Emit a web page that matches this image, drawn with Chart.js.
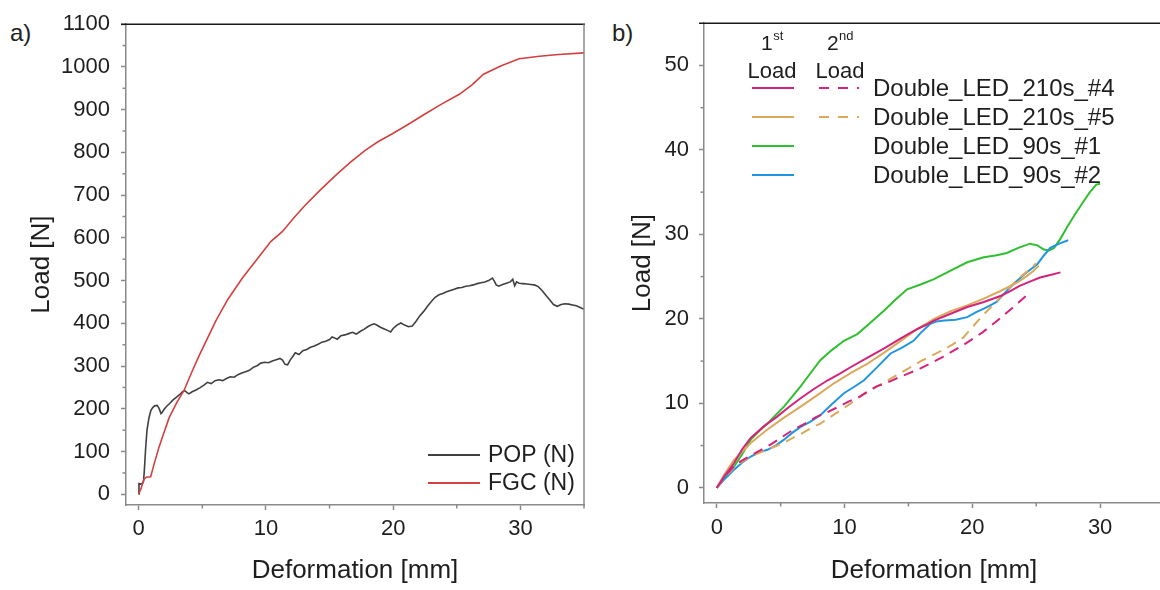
<!DOCTYPE html>
<html>
<head>
<title>Load vs deformation</title>
<script src="https://cdn.jsdelivr.net/npm/chart.js"></script>
<style>
  html, body { margin: 0; padding: 0; background: #fff; overflow: hidden; }
  body { width: 1160px; height: 590px; position: relative; font-family: "Liberation Sans", Arial, sans-serif; }
  canvas { position: absolute; top: 0; }
  #chartA { left: 0; }
  #chartB { left: 600px; }
  .tag { position: absolute; top: 21px; font-size: 24px; line-height: 24px; color: #222; }
</style>
</head>
<body>
<div class="tag" style="left:10px">a)</div>
<div class="tag" style="left:612px">b)</div>
<canvas id="chartA" width="600" height="590"></canvas>
<canvas id="chartB" width="564" height="590"></canvas>

<script>
// ---- panel a) : POP vs FGC, [deformation mm, load N]
const popData = [[0,0],[0.02,25],[0.15,24],[0.3,26],[0.38,30],[0.45,60],[0.55,110],[0.65,150],[0.8,178],[0.95,196],[1.1,203],[1.25,207],[1.45,208],[1.6,201],[1.75,189],[1.85,192],[2.0,199],[2.2,206],[2.45,213],[2.7,221],[2.95,227],[3.2,233],[3.45,240],[3.6,243],[3.8,238],[3.95,235],[4.2,240],[4.5,244],[4.8,249],[5.1,255],[5.4,262],[5.7,259],[6.0,266],[6.3,268],[6.6,266],[6.9,271],[7.2,275],[7.5,274],[7.8,280],[8.1,284],[8.4,287],[8.7,290],[9.0,297],[9.3,301],[9.6,307],[9.9,309],[10.2,308],[10.5,312],[10.8,315],[11.1,318],[11.3,314],[11.5,304],[11.7,303],[11.9,314],[12.1,322],[12.3,331],[12.6,327],[12.9,336],[13.2,339],[13.5,344],[13.8,347],[14.1,351],[14.4,356],[14.7,358],[15.0,362],[15.2,368],[15.4,366],[15.6,363],[15.9,371],[16.2,373],[16.5,376],[16.8,379],[17.1,375],[17.4,381],[17.7,386],[18.0,392],[18.3,397],[18.5,399],[18.7,396],[19.0,391],[19.3,387],[19.6,383],[19.8,380],[20.0,388],[20.3,396],[20.6,401],[20.9,396],[21.2,392],[21.5,394],[21.8,405],[22.1,418],[22.4,428],[22.7,440],[23.0,451],[23.3,461],[23.6,467],[23.9,470],[24.2,474],[24.5,477],[24.8,480],[25.1,483],[25.4,484],[25.7,487],[26.0,488],[26.3,490],[26.6,493],[26.9,495],[27.2,497],[27.5,500],[27.8,506],[27.95,499],[28.1,490],[28.3,487],[28.6,491],[28.9,494],[29.2,497],[29.4,503],[29.55,488],[29.7,497],[29.9,494],[30.2,493],[30.5,492],[30.8,491],[31.1,490],[31.4,486],[31.7,477],[32.0,466],[32.3,455],[32.6,444],[32.9,440],[33.2,444],[33.5,446],[33.8,445],[34.1,443],[34.4,441],[34.7,437],[35.0,433]];
const fgcData = [[0,0],[0.2,15],[0.4,35],[0.6,40],[0.94,41],[1.2,70],[1.6,111],[2.0,146],[2.4,180],[3.0,215],[3.56,243],[4.2,288],[4.74,324],[5.4,365],[6.05,405],[7.0,456],[8.15,506],[9.45,556],[10.4,592],[11.3,615],[12.2,647],[13.1,677],[14.3,713],[15.5,747],[16.6,776],[17.8,805],[18.8,825],[19.9,843],[21.2,866],[22.5,890],[23.8,913],[25.2,936],[26.2,958],[27.1,983],[28.5,1003],[29.9,1019],[31.5,1025],[33.0,1029],[35.0,1033]];
const seriesA = ['POP (N)', 'FGC (N)'];
const xMajorA = [0, 10, 20, 30];
const xMinorA = [5, 15, 25, 35];
const yMajorA = [0, 100, 200, 300, 400, 500, 600, 700, 800, 900, 1000, 1100];
const yMinorA = [50, 150, 250, 350, 450, 550, 650, 750, 850, 950, 1050];

// ---- panel b) : Double LED samples, 1st and 2nd load
const led210s4First = [[0,0],[0.6,1.4],[1.35,2.9],[2.0,4.6],[2.66,5.9],[3.7,7.3],[4.7,8.4],[5.6,9.5],[6.56,10.6],[7.6,11.7],[8.65,12.7],[9.6,13.5],[10.5,14.3],[11.8,15.4],[13.1,16.5],[14.4,17.7],[15.7,18.8],[16.4,19.3],[17.0,19.8],[18.3,20.6],[19.6,21.4],[20.9,22.0],[22.2,22.7],[23.0,23.3],[23.7,23.9],[24.5,24.4],[25.3,24.9],[26.1,25.2],[26.9,25.5]];
const led210s4Second = [[0,0],[0.7,1.5],[1.5,2.8],[2.3,3.5],[3.0,4.1],[3.6,4.6],[4.3,5.2],[5.1,6.0],[6.0,6.9],[6.9,7.6],[7.8,8.4],[8.6,8.9],[9.4,9.5],[10.3,10.2],[11.2,10.8],[11.9,11.5],[12.5,12.0],[13.4,12.5],[14.3,13.1],[15.1,13.6],[15.9,14.1],[16.8,14.8],[17.7,15.5],[18.5,16.2],[19.3,16.9],[20.0,17.6],[20.8,18.4],[21.8,19.6],[22.9,21.0],[23.6,21.9],[24.4,23.0]];
const led210s5First = [[0,0],[0.6,1.6],[1.35,3.3],[2.0,4.3],[2.66,5.3],[3.3,6.1],[3.96,6.9],[5.26,8.3],[6.56,9.6],[7.9,11.0],[9.2,12.4],[10.5,13.6],[11.8,14.7],[13.1,16.0],[14.4,17.4],[15.7,18.8],[17.0,20.0],[18.3,20.9],[19.6,21.6],[20.9,22.4],[22.2,23.3],[23.5,24.3],[24.2,25.0],[24.8,25.7],[25.2,26.3]];
const led210s5Second = [[0,0],[0.7,1.4],[1.5,2.6],[2.2,3.3],[2.9,3.9],[3.6,4.3],[4.4,4.8],[5.2,5.3],[5.8,5.8],[6.5,6.3],[7.3,7.0],[8.1,7.6],[8.8,8.3],[9.6,9.1],[10.4,9.9],[11.2,10.8],[12.0,11.5],[12.8,12.2],[13.7,13.0],[14.5,13.7],[15.3,14.4],[16.1,15.1],[16.9,15.7],[17.7,16.3],[18.5,17.0],[19.3,17.8],[20.0,19.0],[20.8,20.4],[21.6,21.6],[22.4,22.9],[23.1,24.0],[23.7,24.9],[24.2,25.5],[24.7,26.1],[25.0,26.6]];
const led90s1First = [[0,0],[0.6,1.2],[1.35,2.5],[2.0,4.0],[2.66,5.7],[3.3,6.7],[3.96,7.6],[4.6,8.6],[5.26,9.6],[5.9,10.8],[6.56,12.0],[7.3,13.5],[8.1,15.1],[9.0,16.3],[9.95,17.4],[11.0,18.2],[12.0,19.5],[13.1,21.0],[14.0,22.3],[14.9,23.5],[16.0,24.1],[17.0,24.7],[18.3,25.7],[19.6,26.7],[20.9,27.3],[21.8,27.5],[22.7,27.8],[23.6,28.4],[24.5,28.9],[25.1,28.7],[25.6,28.2],[26.0,28.1],[26.4,28.4],[26.9,29.5],[27.4,30.8],[28.0,32.3],[28.7,33.9],[29.2,35.0],[29.7,35.9],[30.0,36.0]];
const led90s2First = [[0,0],[0.6,1.0],[1.35,2.15],[2.0,3.0],[2.66,3.7],[3.3,4.2],[3.96,4.5],[4.6,5.0],[5.26,5.7],[5.9,6.5],[6.56,7.2],[7.3,7.8],[8.1,8.6],[9.0,9.9],[9.95,11.2],[10.7,11.9],[11.5,12.7],[12.5,14.2],[13.6,15.9],[14.5,16.6],[15.4,17.4],[16.0,18.4],[16.7,19.4],[17.2,19.7],[17.8,19.8],[18.7,19.9],[19.6,20.2],[20.3,20.8],[20.9,21.2],[21.4,21.6],[21.9,22.0],[22.5,23.0],[23.2,24.1],[24.1,25.3],[25.1,26.5],[25.6,27.5],[26.1,28.4],[26.8,28.9],[27.5,29.3]];
const seriesB = ['Double_LED_210s_#4', 'Double_LED_210s_#5', 'Double_LED_90s_#1', 'Double_LED_90s_#2'];
const xMajorB = [0, 10, 20, 30];
const xMinorB = [5, 15, 25];
const yMajorB = [0, 10, 20, 30, 40, 50];
const yMinorB = [5, 15, 25, 35, 45];

const FONT = '"Liberation Sans", Arial, sans-serif';
const TXT = '#1e1e1e';
const AXIS = '#8a8a8a';
const MAGENTA = '#d3237b', TAN = '#dba95c', GREEN = '#30bf30', BLUE = '#2196e0';
Chart.defaults.font.family = FONT;

const pts = arr => arr.map(p => ({x: p[0], y: p[1]}));

// top border, optional right border and minor ticks
const framePlugin = {
  id: 'frame',
  afterDatasetsDraw(chart, args, opts) {
    const {ctx, chartArea: a, scales} = chart;
    ctx.save();
    ctx.lineWidth = 1.5;
    ctx.strokeStyle = '#1a1a1a';
    ctx.beginPath(); ctx.moveTo(a.left - 5, a.top); ctx.lineTo(a.right + 1, a.top); ctx.stroke();
    ctx.strokeStyle = AXIS;
    if (opts.right) {
      ctx.beginPath(); ctx.moveTo(a.right, a.top); ctx.lineTo(a.right, a.bottom); ctx.stroke();
    }
    opts.xMinor.forEach(v => {
      const px = scales.x.getPixelForValue(v);
      ctx.beginPath(); ctx.moveTo(px, a.bottom); ctx.lineTo(px, a.bottom + 3.5); ctx.stroke();
    });
    opts.yMinor.forEach(v => {
      const py = scales.y.getPixelForValue(v);
      ctx.beginPath(); ctx.moveTo(a.left - 3.5, py); ctx.lineTo(a.left, py); ctx.stroke();
    });
    ctx.restore();
  }
};

function axes(xr, yr, yWidth, xHeight, yPad, yTitlePad, xPad, xMaj, yMaj) {
  const common = {
    type: 'linear',
    grid: { display: true, drawOnChartArea: false, tickLength: 5, tickColor: AXIS, tickWidth: 1.5 },
    border: { display: true, color: AXIS, width: 1.5 },
  };
  return {
    x: Object.assign({}, common, {
      min: xr[0], max: xr[1],
      afterBuildTicks: s => { s.ticks = xMaj.map(v => ({value: v})); },
      afterFit: s => { s.height = xHeight; },
      ticks: { font: {size: 22}, color: TXT, padding: xPad, maxRotation: 0, autoSkip: false, callback: v => String(v) },
      title: { display: true, text: 'Deformation [mm]', font: {size: 26}, color: TXT, padding: {top: 0, bottom: 4} }
    }),
    y: Object.assign({}, common, {
      min: yr[0], max: yr[1],
      afterBuildTicks: s => { s.ticks = yMaj.map(v => ({value: v})); },
      afterFit: s => { s.width = yWidth; },
      ticks: { font: {size: 22}, color: TXT, padding: yPad, autoSkip: false, callback: v => String(v) },
      title: { display: true, text: 'Load [N]', font: {size: 26}, color: TXT, padding: {top: yTitlePad, bottom: 0} }
    })
  };
}

// legend for panel a)
const legendA = {
  id: 'legendA',
  afterDraw(chart) {
    const {ctx} = chart;
    const rows = [{label: seriesA[0], color: '#404040', y: 455}, {label: seriesA[1], color: '#d4403e', y: 483}];
    ctx.save();
    ctx.font = '23px ' + FONT;
    ctx.textBaseline = 'middle';
    ctx.fillStyle = TXT;
    rows.forEach(r => {
      ctx.strokeStyle = r.color; ctx.lineWidth = 1.8;
      ctx.beginPath(); ctx.moveTo(428, r.y); ctx.lineTo(480, r.y); ctx.stroke();
      ctx.fillText(r.label, 488, r.y + 1);
    });
    ctx.restore();
  }
};

new Chart(document.getElementById('chartA'), {
  type: 'line',
  data: {
    datasets: [
      { label: seriesA[1], data: pts(fgcData), borderColor: '#d4403e', borderWidth: 1.6, pointRadius: 0, tension: 0 },
      { label: seriesA[0], data: pts(popData), borderColor: '#404040', borderWidth: 1.6, pointRadius: 0, tension: 0 }
    ]
  },
  options: {
    responsive: false, animation: false,
    layout: { padding: { top: 21, right: 16, bottom: 0, left: 0 } },
    plugins: { legend: { display: false }, tooltip: { enabled: false },
      frame: { right: true, xMinor: xMinorA, yMinor: yMinorA } },
    scales: axes([-1, 35], [-25, 1100], 126, 85, 11, 26, 6, xMajorA, yMajorA)
  },
  plugins: [framePlugin, legendA]
});

// legend for panel b), with 1st / 2nd load columns
const legendB = {
  id: 'legendB',
  afterDraw(chart) {
    const {ctx} = chart;
    const rows = [
      {label: seriesB[0], color: MAGENTA, dashed: true, y: 88},
      {label: seriesB[1], color: TAN, dashed: true, y: 117},
      {label: seriesB[2], color: GREEN, dashed: false, y: 146},
      {label: seriesB[3], color: BLUE, dashed: false, y: 175}
    ];
    ctx.save();
    ctx.fillStyle = TXT;
    ctx.textBaseline = 'middle';
    // column heads
    const head = (num, sup, cx) => {
      ctx.font = '21px ' + FONT;
      const w1 = ctx.measureText(num).width;
      ctx.font = '13px ' + FONT;
      const w2 = ctx.measureText(sup).width;
      const x0 = cx - (w1 + w2) / 2;
      ctx.font = '21px ' + FONT; ctx.textAlign = 'left';
      ctx.fillText(num, x0, 44);
      ctx.font = '13px ' + FONT;
      ctx.fillText(sup, x0 + w1 + 0.5, 36);
      ctx.font = '22px ' + FONT; ctx.textAlign = 'center';
      ctx.fillText('Load', cx, 72);
    };
    head('1', 'st', 172);
    head('2', 'nd', 240);
    ctx.textAlign = 'left';
    ctx.font = '24px ' + FONT;
    rows.forEach(r => {
      ctx.strokeStyle = r.color; ctx.lineWidth = 2;
      ctx.setLineDash([]);
      ctx.beginPath(); ctx.moveTo(152, r.y); ctx.lineTo(194, r.y); ctx.stroke();
      if (r.dashed) {
        ctx.setLineDash([10, 9]);
        ctx.beginPath(); ctx.moveTo(219, r.y); ctx.lineTo(259, r.y); ctx.stroke();
      }
      ctx.fillText(r.label, 273, r.y + 1);
    });
    ctx.restore();
  }
};

const lineB = (label, data, color, dashed) => ({
  label, data: pts(data), borderColor: color, borderWidth: 2, pointRadius: 0, tension: 0,
  borderDash: dashed ? [10, 7] : []
});

new Chart(document.getElementById('chartB'), {
  type: 'line',
  data: {
    datasets: [
      lineB(seriesB[0] + ' 1st', led210s4First, MAGENTA, false),
      lineB(seriesB[1] + ' 1st', led210s5First, TAN, false),
      lineB(seriesB[0] + ' 2nd', led210s4Second, MAGENTA, true),
      lineB(seriesB[1] + ' 2nd', led210s5Second, TAN, true),
      lineB(seriesB[3], led90s2First, BLUE, false),
      lineB(seriesB[2], led90s1First, GREEN, false)
    ]
  },
  options: {
    responsive: false, animation: false,
    layout: { padding: { top: 21, right: 0, bottom: 0, left: 0 } },
    plugins: { legend: { display: false }, tooltip: { enabled: false },
      frame: { right: false, xMinor: xMinorB, yMinor: yMinorB } },
    scales: axes([-1, 35], [-1.8, 55], 104, 87, 10, 27, 7, xMajorB, yMajorB)
  },
  plugins: [framePlugin, legendB]
});
</script>
</body>
</html>
